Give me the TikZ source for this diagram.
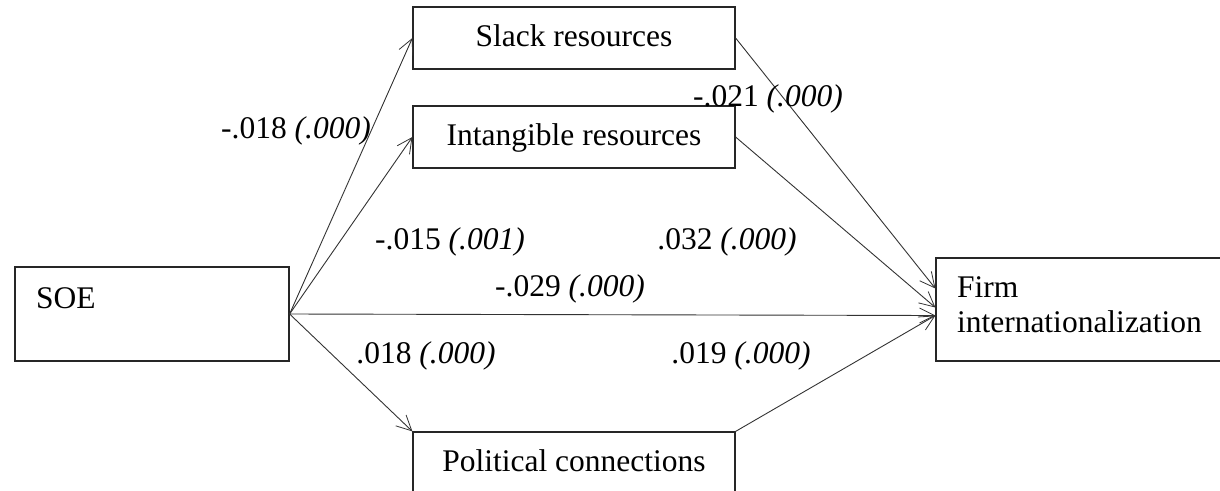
\documentclass[tikz,border=0pt]{standalone}
\usepackage{fontspec}
\setmainfont{Liberation Serif}
\usetikzlibrary{arrows.meta,positioning}

\begin{document}
\begin{tikzpicture}[x=1pt, y=-1pt,
  box/.style={rectangle, draw=black!85, line width=1.2pt, minimum width=322pt,
    minimum height=62pt, inner sep=0pt, text height=39.5pt, text depth=22.5pt,
    font=\fontsize{31.5}{35}\selectfont},
  arr/.style={-{Straight Barb[length=15pt, width=15pt, line width=0.8pt]}, black!80, line width=0.9pt},
  lbl/.style={inner sep=0pt, font=\fontsize{31.5}{35}\selectfont}]
\useasboundingbox (0,0) rectangle (1220,490);
\clip (0,0) rectangle (1220,490);
% boxes
\node[box, minimum width=274pt, minimum height=94pt, text width=232pt, align=left,
  inner xsep=21pt, text height=41pt, text depth=53pt] (soe) at (152,314) {SOE};
\node[box] (slack) at (574,38) {Slack resources};
\node[box] (intang) at (574,137) {Intangible resources};
\node[box] (polit) at (574,463) {Political connections};
\node[box, minimum width=300pt, minimum height=103pt, text width=258pt, align=left,
  inner xsep=21pt, text height=39pt, text depth=64pt] (firm) at (1086,309.5) {Firm\\internationalization};
% paths
\draw[arr] (soe.east) -- (slack.west);
\draw[arr] (soe.east) -- (intang.west);
\draw[arr] (soe.east) -- (polit.north west);
\draw[arr] (soe.east) -- ([yshift=-6pt]firm.west);
\draw[arr] (slack.east) -- ([yshift=21pt]firm.west);
\draw[arr] (intang.east) -- ([yshift=2pt]firm.west);
\draw[arr] (polit.north east) -- ([yshift=-6pt]firm.west);
% coefficients
\node[lbl] (c1) at (296,131) {-.018 \textit{(.000)}};
\node[lbl] (c2) at (768,99) {-.021 \textit{(.000)}};
\node[lbl] (c3) at (450,242) {-.015 \textit{(.001)}};
\node[lbl] (c4) at (727,242) {.032 \textit{(.000)}};
\node[lbl] (c5) at (570,289) {-.029 \textit{(.000)}};
\node[lbl] (c6) at (426,356) {.018 \textit{(.000)}};
\node[lbl] (c7) at (741,356) {.019 \textit{(.000)}};
\end{tikzpicture}
\end{document}
